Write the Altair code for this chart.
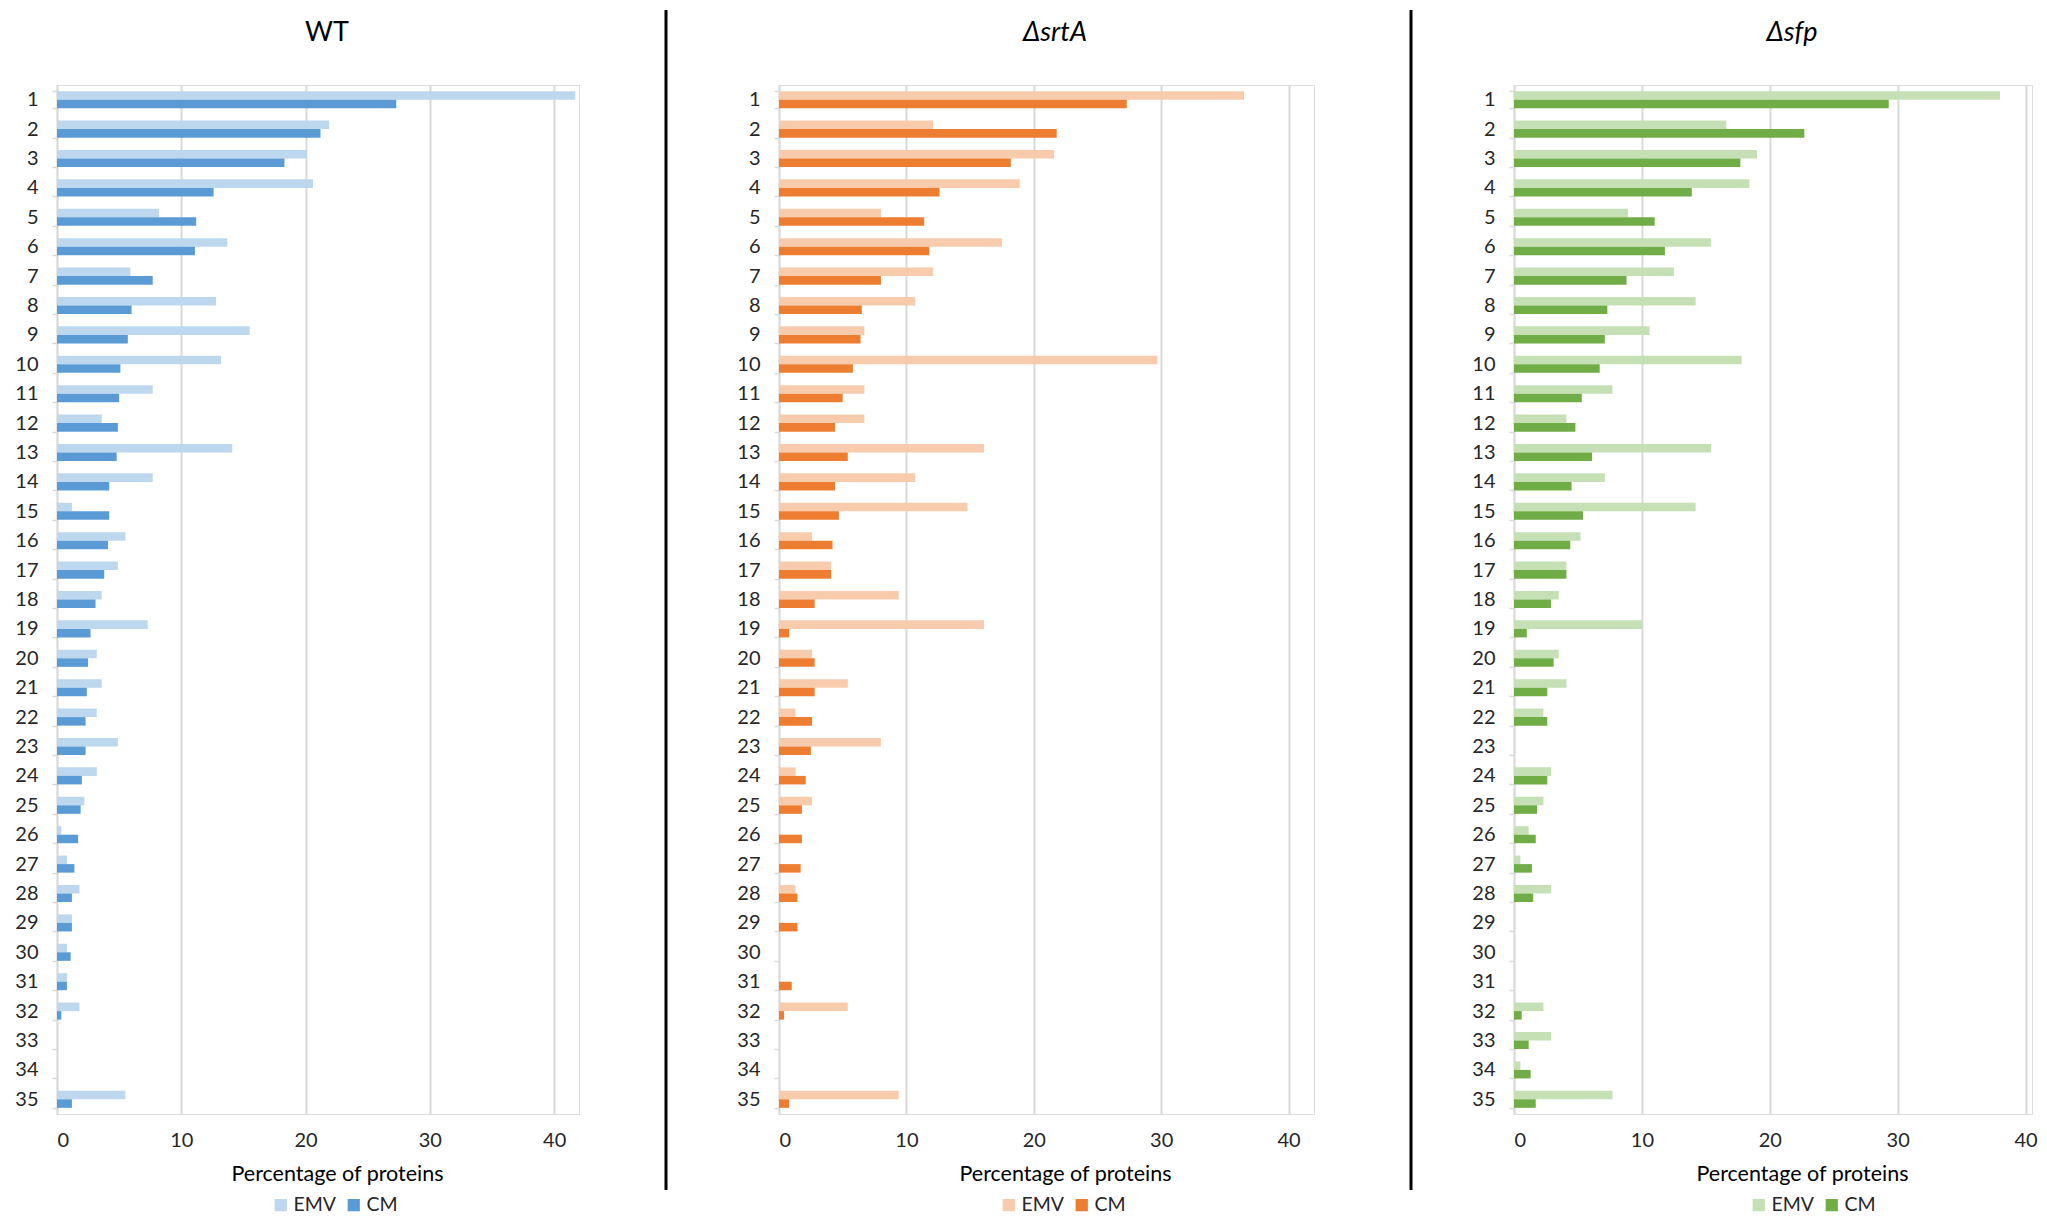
import altair as alt
import pandas as pd

categories = ["1", "2", "3", "4", "5", "6", "7", "8", "9", "10", "11", "12", "13", "14", "15",
              "16", "17", "18", "19", "20", "21", "22", "23", "24", "25", "26", "27", "28", "29",
              "30", "31", "32", "33", "34", "35"]
series = ["EMV", "CM"]
x_ticks = [0, 10, 20, 30, 40]

wt_emv = [41.7, 21.9, 20.1, 20.6, 8.2, 13.7, 5.9, 12.8, 15.5, 13.2, 7.7, 3.6, 14.1, 7.7, 1.2,
          5.5, 4.9, 3.6, 7.3, 3.2, 3.6, 3.2, 4.9, 3.2, 2.2, 0.35, 0.8, 1.8, 1.2, 0.8, 0.8, 1.8,
          0, 0, 5.5]
wt_cm = [27.3, 21.2, 18.3, 12.6, 11.2, 11.1, 7.7, 6.0, 5.7, 5.1, 5.0, 4.9, 4.8, 4.2, 4.2,
         4.1, 3.8, 3.1, 2.7, 2.5, 2.4, 2.3, 2.3, 2.0, 1.9, 1.7, 1.4, 1.2, 1.2, 1.1, 0.8, 0.35,
         0, 0, 1.2]

srta_emv = [36.5, 12.1, 21.6, 18.9, 8.0, 17.5, 12.1, 10.7, 6.7, 29.7, 6.7, 6.7, 16.1, 10.7, 14.8,
            2.6, 4.1, 9.4, 16.1, 2.6, 5.4, 1.3, 8.0, 1.3, 2.6, 0, 0, 1.3, 0, 0, 0, 5.4,
            0, 0, 9.4]
srta_cm = [27.3, 21.8, 18.2, 12.6, 11.4, 11.8, 8.0, 6.5, 6.4, 5.8, 5.0, 4.4, 5.4, 4.4, 4.7,
           4.2, 4.1, 2.8, 0.8, 2.8, 2.8, 2.6, 2.5, 2.1, 1.8, 1.8, 1.7, 1.45, 1.45, 0, 1.0, 0.4,
           0, 0, 0.8]

sfp_emv = [38.0, 16.6, 19.0, 18.4, 8.9, 15.4, 12.5, 14.2, 10.6, 17.8, 7.7, 4.1, 15.4, 7.1, 14.2,
           5.2, 4.1, 3.5, 10.0, 3.5, 4.1, 2.3, 0, 2.9, 2.3, 1.15, 0.5, 2.9, 0, 0, 0, 2.3,
           2.9, 0.5, 7.7]
sfp_cm = [29.3, 22.7, 17.7, 13.9, 11.0, 11.8, 8.8, 7.3, 7.1, 6.7, 5.3, 4.8, 6.1, 4.5, 5.4,
          4.4, 4.1, 2.9, 1.0, 3.1, 2.6, 2.6, 0, 2.6, 1.8, 1.7, 1.4, 1.5, 0, 0, 0, 0.6,
          1.15, 1.3, 1.7]

PLOT_H = 1029
TEXT = "#262626"
GRID = "#d9d9d9"


def panel(title, italic, emv, cm, colors, width, xmax, title_x, axis_title_x, legend_x, sep_x=None):
    df = pd.DataFrame({
        "category": categories * 2,
        "series": [series[0]] * len(categories) + [series[1]] * len(categories),
        "value": emv + cm,
    })
    bars = alt.Chart(df).mark_bar().encode(
        y=alt.Y("category:N", sort=categories,
                scale=alt.Scale(paddingInner=0.42, paddingOuter=0.21),
                axis=alt.Axis(title=None, tickBand="extent", tickSize=5, tickColor=GRID,
                              tickWidth=1.5, domainColor=GRID, domainWidth=1.5,
                              labelFontSize=20, labelColor=TEXT, labelPadding=14)),
        yOffset=alt.YOffset("series:N", sort=series,
                            scale=alt.Scale(paddingInner=0, paddingOuter=0)),
        x=alt.X("value:Q", scale=alt.Scale(domain=[0, xmax], nice=False),
                axis=alt.Axis(values=x_ticks, title="Percentage of proteins", grid=True,
                              gridColor=GRID, gridWidth=2, domain=False, ticks=False,
                              labelFontSize=20, labelColor=TEXT, labelPadding=16,
                              titleFontSize=21.5, titleFontWeight="normal", titleColor="black",
                              titleX=axis_title_x, titleY=60, titleBaseline="middle",
                              titleAnchor="start", titleAlign="center")),
        color=alt.Color("series:N", sort=series,
                        scale=alt.Scale(domain=series, range=colors),
                        legend=alt.Legend(orient="none", legendX=legend_x, legendY=1110,
                                          direction="horizontal", title=None,
                                          symbolType="square", symbolSize=150,
                                          symbolStrokeWidth=0, labelFontSize=19.5,
                                          labelColor=TEXT, labelOffset=3, columnPadding=7)),
    )
    head = alt.Chart(pd.DataFrame({"t": [title]})).mark_text(
        fontSize=27, fontStyle="italic" if italic else "normal", color="black",
        align="center", baseline="middle",
    ).encode(text="t:N", x=alt.value(title_x), y=alt.value(-52))
    layers = [bars, head]
    if sep_x is not None:
        sep = alt.Chart(pd.DataFrame({"s": [0]})).mark_rule(color="black", strokeWidth=3).encode(
            x=alt.value(sep_x), y=alt.value(-75), y2=alt.value(1105))
        layers.append(sep)
    return alt.layer(*layers).properties(width=width, height=PLOT_H)


p1 = panel("WT", False, wt_emv, wt_cm, ["#BDD7EE", "#5B9BD5"], 522, 42, 270, 280, 214)
p2 = panel("ΔsrtA", True, srta_emv, srta_cm, ["#F8CBAD", "#ED7D31"], 535, 42, 276, 286, 220, -113)
p3 = panel("Δsfp", True, sfp_emv, sfp_cm, ["#C5E0B4", "#70AD47"], 518, 40.5, 278, 288, 235, -103)

chart = alt.HConcatChart(hconcat=[p1, p2, p3], spacing=200, bounds="flush").resolve_scale(
    color="independent"
).properties(
    padding={"left": 6, "top": 0, "right": 0, "bottom": 0}
).configure_view(stroke=None).configure(font="Lato", background="white")

chart.save("out.html", embed_options={"renderer": "svg", "actions": False})
